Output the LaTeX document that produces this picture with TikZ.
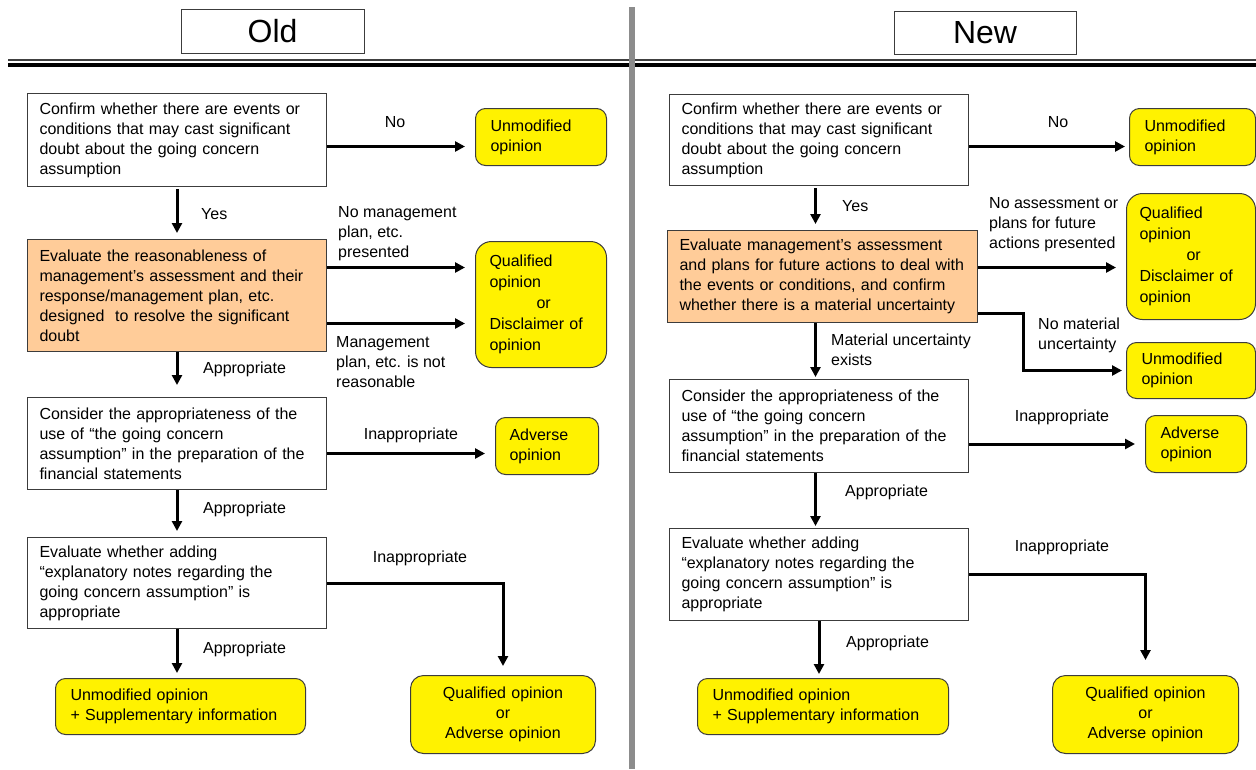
\documentclass[tikz,border=0pt]{standalone}
\usepackage{fontspec}
\setmainfont{Liberation Sans}
\usepackage{tikz}
\usetikzlibrary{calc}
\usetikzlibrary{arrows.meta}

\definecolor{peach}{RGB}{255,204,153}
\definecolor{boxline}{RGB}{60,60,60}

\tikzset{
	every node/.style={font=\fontsize{16}{20}\selectfont},
	stepbox/.style={draw=boxline,line width=1pt,anchor=north west,align=left,inner xsep=12pt,inner ysep=0pt,minimum width=299pt,text width=275pt},
	askbox/.style={stepbox,fill=peach},
	result/.style={draw=boxline,line width=1pt,fill=yellow,rounded corners=10pt,anchor=north west,align=left,inner xsep=15pt,inner ysep=0pt},
	headbox/.style={draw=boxline,line width=1pt,minimum height=44pt,font=\fontsize{32}{38}\selectfont},
	lbl/.style={align=left,inner sep=0pt},
	arr/.style={line width=3pt,-{Triangle[length=10pt,width=10pt]},shorten >=10pt},
}

\begin{document}
\begin{tikzpicture}[x=1pt,y=-1pt]
	\fill[white] (0,0) rectangle (1256,769);
	\useasboundingbox (0,0) rectangle (1256,769);
	% headings
	\node[headbox,minimum width=183pt] (old) at (272.5,31) {Old};
	\node[headbox,minimum width=182pt,minimum height=43pt] (new) at (985,32.5) {New};
	\draw[black!75,line width=1.5pt] (8,60) -- (1256,60);
	\draw[line width=4pt] (8,64.5) -- (1256,64.5);

	% old procedure
	\node[stepbox,minimum height=93pt] (cfL) at (27,93) {Confirm whether there are events or\\conditions that may cast significant\\doubt about the going concern\\assumption};
	\node[askbox,minimum height=112pt] (evL) at (27,239) {Evaluate the reasonableness of\\management’s assessment and their\\response/management plan, etc.\\designed\ \ to resolve the significant\\doubt};
	\node[stepbox,minimum height=92pt] (coL) at (27,397) {Consider the appropriateness of the\\use of “the going concern\\assumption” in the preparation of the\\financial statements};
	\node[stepbox,minimum height=91pt] (ewL) at (27,537) {Evaluate whether adding\\“explanatory notes regarding the\\going concern assumption” is\\appropriate};
	\node[result,minimum width=131pt,minimum height=57pt,text width=101pt] (unL) at (475,108) {Unmodified\\opinion};
	\node[result,rounded corners=16pt,minimum width=131pt,minimum height=126pt,text width=103pt,inner xsep=14pt,font=\fontsize{16}{21}\selectfont] (quL) at (475,241) {Qualified\\opinion\\\hspace*{47pt}or\\Disclaimer of\\opinion};
	\node[result,minimum width=103pt,minimum height=57pt,text width=75pt,inner xsep=14pt] (adL) at (495,417) {Adverse\\opinion};
	\node[result,minimum width=250pt,minimum height=56pt,text width=220pt] (usL) at (55,678) {Unmodified opinion\\+ Supplementary information};
	\node[result,rounded corners=13pt,minimum width=185pt,minimum height=78pt,text width=155pt,align=center] (qaL) at (410,675) {Qualified opinion\\or\\Adverse opinion};

	\node[lbl] (noL) at (395,122) {No};
	\node[lbl,anchor=west] (yesL) at (201,214) {Yes};
	\node[lbl,anchor=west] (nmL) at (338,234) {No management\\plan, etc.\\presented};
	\node[lbl,anchor=west] (nrL) at (336,362) {Management\\plan, etc. is not\\reasonable};
	\node[lbl,anchor=west] (ap1L) at (203,369) {Appropriate};
	\node[lbl] (in1L) at (411,435) {Inappropriate};
	\node[lbl,anchor=west] (ap2L) at (203,509) {Appropriate};
	\node[lbl] (in2L) at (420,558) {Inappropriate};
	\node[lbl,anchor=west] (ap3L) at (203,649) {Appropriate};

	\draw[arr] ($(cfL.east)+(0,6.5)$) coordinate (a1) -- (a1 -| unL.west);
	\draw[arr] ($(evL.east)+(0,-28)$) coordinate (a2) -- (a2 -| quL.west);
	\draw[arr] ($(evL.east)+(0,28)$) coordinate (a3) -- (a3 -| quL.west);
	\draw[arr] ($(coL.east)+(0,10)$) coordinate (a4) -- (a4 -| adL.west);
	\draw[arr,shorten >=9pt] (ewL.east) -| (qaL.north);
	\draw[arr,shorten <=2pt,shorten >=6pt] (cfL.south) -- (evL.north);
	\draw[arr,shorten >=12pt] (evL.south) -- (coL.north);
	\draw[arr,shorten >=6pt] (coL.south) -- (ewL.north);
	\draw[arr,shorten >=5pt] (ewL.south) coordinate (a5) -- (a5 |- usL.north);

	% new procedure
	\node[stepbox,minimum height=91pt] (cfR) at (669,94) {Confirm whether there are events or\\conditions that may cast significant\\doubt about the going concern\\assumption};
	\node[askbox,minimum width=310pt,text width=286pt,minimum height=92pt] (evR) at (667,230) {Evaluate management’s assessment\\and plans for future actions to deal with\\the events or conditions, and confirm\\whether there is a material uncertainty};
	\node[stepbox,minimum height=93pt] (coR) at (669,379) {Consider the appropriateness of the\\use of “the going concern\\assumption” in the preparation of the\\financial statements};
	\node[stepbox,minimum height=92pt] (ewR) at (669,528) {Evaluate whether adding\\“explanatory notes regarding the\\going concern assumption” is\\appropriate};
	\node[result,minimum width=126pt,minimum height=57pt,text width=96pt] (unR) at (1129,108) {Unmodified\\opinion};
	\node[result,rounded corners=16pt,minimum width=129pt,minimum height=126pt,text width=103pt,inner xsep=13pt,font=\fontsize{16}{21}\selectfont] (quR) at (1126,193) {Qualified\\opinion\\\hspace*{47pt}or\\Disclaimer of\\opinion};
	\node[result,minimum width=129pt,minimum height=56pt,text width=99pt] (unR2) at (1126,342) {Unmodified\\opinion};
	\node[result,minimum width=101pt,minimum height=57pt,text width=71pt] (adR) at (1145,415) {Adverse\\opinion};
	\node[result,minimum width=251pt,minimum height=56pt,text width=221pt] (usR) at (697,678) {Unmodified opinion\\+ Supplementary information};
	\node[result,rounded corners=13pt,minimum width=186pt,minimum height=78pt,text width=156pt,align=center] (qaR) at (1052,675) {Qualified opinion\\or\\Adverse opinion};

	\node[lbl] (noR) at (1058,122) {No};
	\node[lbl,anchor=west] (yesR) at (842,206) {Yes};
	\node[lbl,anchor=west] (naR) at (989,225) {No assessment or\\plans for future\\actions presented};
	\node[lbl,anchor=west] (nmR) at (1038,335) {No material\\uncertainty};
	\node[lbl,anchor=west] (muR) at (831,350) {Material uncertainty\\exists};
	\node[lbl] (in1R) at (1062,417) {Inappropriate};
	\node[lbl,anchor=west] (ap1R) at (845,492) {Appropriate};
	\node[lbl] (in2R) at (1062,547) {Inappropriate};
	\node[lbl,anchor=west] (ap2R) at (846,643) {Appropriate};

	\draw[arr,shorten >=4pt] ($(cfR.east)+(0,6.5)$) coordinate (b1) -- (b1 -| unR.west);
	\draw[arr] ($(evR.east)+(0,-9)$) coordinate (b2) -- (b2 -| quR.west);
	\draw[arr,shorten >=4pt] ($(evR.east)+(0,37)$) -- ++(45,0) |- (unR2.west);
	\draw[arr] (coR.east |- adR.west) -- (adR.west);
	\draw[arr,shorten >=15pt] (ewR.east) -| (qaR.north);
	\draw[arr,shorten <=2pt,shorten >=6pt] ($(cfR.south)+(-3.5,0)$) coordinate (b3) -- (b3 |- evR.north);
	\draw[arr,shorten >=2pt] ($(evR.south)+(-7,0)$) coordinate (b4) -- (b4 |- coR.north);
	\draw[arr,shorten >=2pt] ($(coR.south)+(-3.5,0)$) coordinate (b5) -- (b5 |- ewR.north);
	\draw[arr,shorten >=4pt] (ewR.south) coordinate (b6) -- (b6 |- usR.north);

	% divider
	\draw[black!45,line width=6pt] (632,7) -- (632,769);
\end{tikzpicture}
\end{document}
